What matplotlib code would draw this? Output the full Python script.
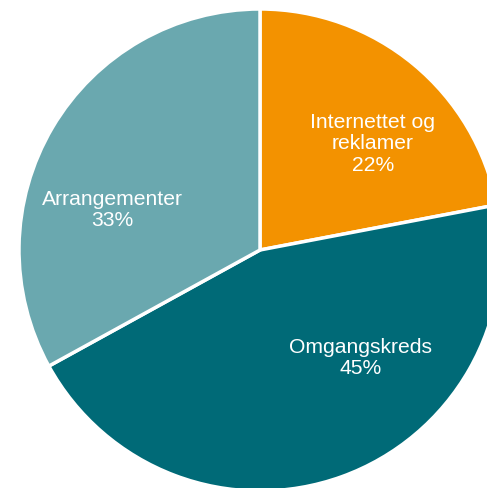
import matplotlib.pyplot as plt

labels = ["Internettet og\nreklamer", "Omgangskreds", "Arrangementer"]
shares = [22, 45, 33]
colors = ["#F39200", "#006A77", "#6AA8AF"]

# text anchor points (pixel space, y measured from bottom)
label_x = [373, 361, 112]
label_y = [489 - 144, 489 - 358, 489 - 210]

plt.rcParams["font.family"] = ["Liberation Sans", "DejaVu Sans"]

fig = plt.figure(figsize=(4.87, 4.89), dpi=100)
ax = fig.add_axes([0, 0, 1, 1])

ax.pie(
    shares,
    colors=colors,
    startangle=90,
    counterclock=False,
    radius=241,
    center=(260, 238),
    wedgeprops=dict(edgecolor="white", linewidth=2.5),
    frame=True,
)

for name, val, x, y in zip(labels, shares, label_x, label_y):
    ax.text(x, y, f"{name}\n{val}%", color="white", fontsize=15.2,
            ha="center", va="center", linespacing=1.18)

ax.set_xlim(0, 487)
ax.set_ylim(0, 489)
ax.set_aspect("equal")
ax.axis("off")

fig.savefig("out.png", dpi=100)
